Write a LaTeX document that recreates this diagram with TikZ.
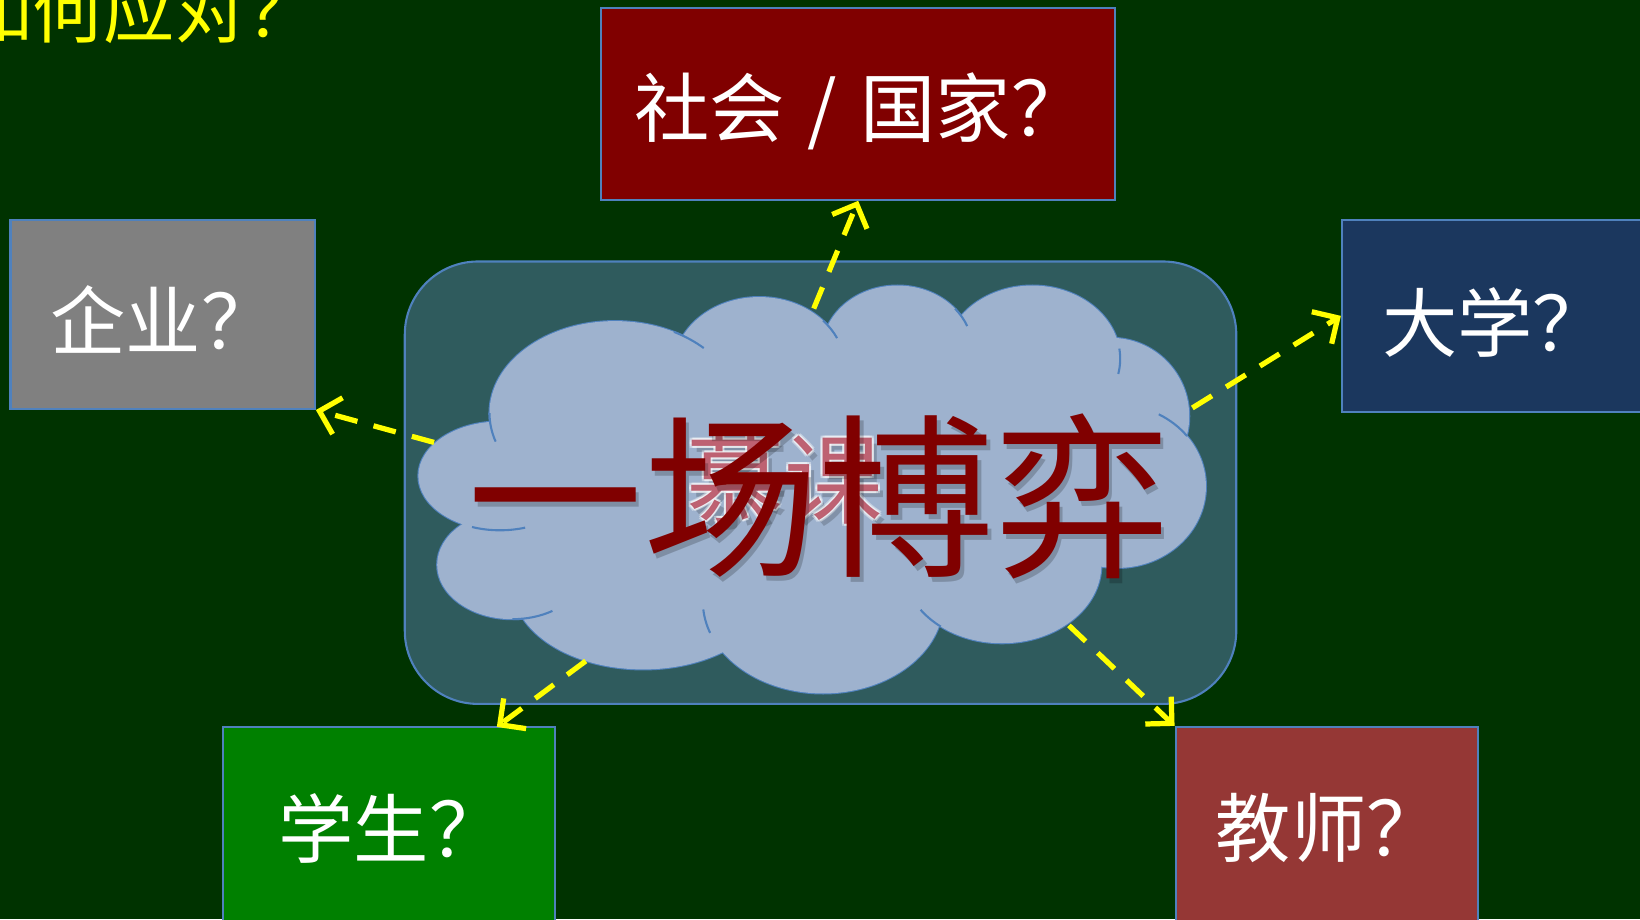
\documentclass[tikz,border=0pt]{standalone}
\usepackage{fontspec}
\newfontfamily\cjk{Noto Sans CJK SC}
\usetikzlibrary{arrows.meta}
\definecolor{bg}{RGB}{0,51,0}
\definecolor{panelfill}{RGB}{47,91,93}
\definecolor{cloudfill}{RGB}{158,178,206}
\definecolor{edgeblue}{RGB}{79,129,189}
\definecolor{socred}{RGB}{128,0,0}
\definecolor{entgray}{RGB}{128,128,128}
\definecolor{uniblue}{RGB}{27,55,94}
\definecolor{stugreen}{RGB}{0,128,0}
\definecolor{teared}{RGB}{149,55,53}
\definecolor{mkred}{RGB}{175,60,80}
\definecolor{arrowyellow}{RGB}{255,255,0}
\tikzset{
  box/.style={draw=edgeblue, line width=1pt, inner sep=0pt, anchor=center},
  boxtext/.style={font=\cjk\fontsize{36}{40}\selectfont, text=white, inner sep=0pt, anchor=west},
  conn/.style={draw=arrowyellow, line width=2.5pt, dash pattern=on 11pt off 8pt,
    -{Straight Barb[length=9pt,width=18pt]}},
  lobe/.style={draw=edgeblue, line width=1pt},
  mkfont/.style={font=\cjk\fontsize{47}{50}\selectfont, inner sep=0pt},
}
\begin{document}
\begin{tikzpicture}[x=0.5pt,y=-0.5pt]
\useasboundingbox (0,0) rectangle (1568,879);
\clip (0,0) rectangle (1568,879);
\fill[bg] (0,0) rectangle (1568,879);

% title
\node[font=\cjk\fontsize{34}{38}\selectfont, text=arrowyellow, inner sep=0pt, anchor=west] (title) at (-37,10) {如何应对？};

% boxes
\node[box, fill=socred, minimum width=245.5pt, minimum height=91.5pt] (soc) at (820.5,99.5) {};
\node[box, fill=entgray, minimum width=145.5pt, minimum height=90.5pt] (ent) at (155.5,300.5) {};
\node[box, fill=uniblue, minimum width=168.5pt, minimum height=92pt] (uni) at (1451.5,302) {};
\node[box, fill=stugreen, minimum width=159pt, minimum height=112.5pt] (stu) at (372,807.5) {};
\node[box, fill=teared, minimum width=144.5pt, minimum height=112.5pt] (tea) at (1268.5,807.5) {};

\node[boxtext] (soct) at (606,106) {社会\hspace{3pt} / \hspace{3pt}国家？};
\node[boxtext] (entt) at (48,305) {企业？};
\node[boxtext] (unit) at (1321,308) {大学？};
\node[boxtext] (stut) at (266,792) {学生？};
\node[boxtext] (teat) at (1162,792) {教师？};

% panel
\node[draw=edgeblue, line width=1pt, fill=panelfill, rounded corners=35pt,
  minimum width=397.5pt, minimum height=211.5pt, inner sep=0pt] (panel) at (784.5,461.5) {};

% cloud: outlines first, then fill
\foreach \cx/\cy/\rx/\ry in {588/395/120/88, 726/352/82/68, 858/335/72/62, 987/343/84/70,
  1062/398/75/75, 1068/465/85/78, 958/540/95/75, 787/575/115/88, 615/560/125/80,
  490/540/72/52, 478/455/78/52}
  \draw[lobe, fill=cloudfill] (\cx,\cy) ellipse [x radius=\rx, y radius=\ry];
\foreach \cx/\cy/\rx/\ry in {588/395/120/88, 726/352/82/68, 858/335/72/62, 987/343/84/70,
  1062/398/75/75, 1068/465/85/78, 958/540/95/75, 787/575/115/88, 615/560/125/80,
  490/540/72/52, 478/455/78/52, 790/460/300/130}
  \fill[cloudfill] (\cx,\cy) ellipse [x radius=\rx, y radius=\ry];
% inner arcs
\draw[lobe] (588,395) ++(180:120 and 88) arc[start angle=180, end angle=162, x radius=120, y radius=88];
\draw[lobe] (478,455) ++(110:78 and 52) arc[start angle=110, end angle=72, x radius=78, y radius=52];
\draw[lobe] (490,540) ++(90:72 and 52) arc[start angle=90, end angle=58, x radius=72, y radius=52];
\draw[lobe] (787,575) ++(160:115 and 88) arc[start angle=160, end angle=175, x radius=115, y radius=88];
\draw[lobe] (958,540) ++(128:95 and 75) arc[start angle=128, end angle=145, x radius=95, y radius=75];
\draw[lobe] (1068,465) ++(-38:85 and 78) arc[start angle=-38, end angle=-62, x radius=85, y radius=78];
\draw[lobe] (987,343) ++(-8:84 and 70) arc[start angle=-8, end angle=12, x radius=84, y radius=70];
\draw[lobe] (858,335) ++(-40:72 and 62) arc[start angle=-40, end angle=-22, x radius=72, y radius=62];
\draw[lobe] (726,352) ++(-42:82 and 68) arc[start angle=-42, end angle=-25, x radius=82, y radius=68];
\draw[lobe] (588,395) ++(-62:120 and 88) arc[start angle=-62, end angle=-45, x radius=120, y radius=88];

% arrows
\coordinate (ctop) at (778,295);
\coordinate (cleft) at (415,423);
\coordinate (cright) at (1140,390);
\coordinate (cbl) at (560,632);
\coordinate (cbr) at (1022,598);
\coordinate (stuin) at (475,695);
\draw[conn] (ctop) -- (soc.south);
\draw[conn] (cleft) -- (ent.south east);
\draw[conn] (cright) -- (uni.west);
\draw[conn] (cbl) -- (stuin);
\draw[conn] (cbr) -- (tea.north west);

% faint background text
\node[mkfont, text=black, text opacity=0.18] (mkshadow) at (755,464) {慕课};
\foreach \i/\dx/\dy in {1/-2/0, 2/2/0, 3/0/-2, 4/0/2, 5/-1.5/-1.5, 6/1.5/1.5, 7/-1.5/1.5, 8/1.5/-1.5}
  \node[mkfont, text=white, text opacity=0.4] (mkglow\i) at (750+\dx,458+\dy) {慕课};
\node[mkfont, text=mkred, text opacity=0.8] (mk) at (750,458) {慕课};

% main text
\node[font=\cjk\fontsize{84}{90}\selectfont, text=black, text opacity=0.2, inner sep=0pt] (mainshadow) at (786,479) {一场博弈};
\node[font=\cjk\fontsize{84}{90}\selectfont, text=socred, inner sep=0pt] (main) at (783,475) {一场博弈};
\end{tikzpicture}
\end{document}
